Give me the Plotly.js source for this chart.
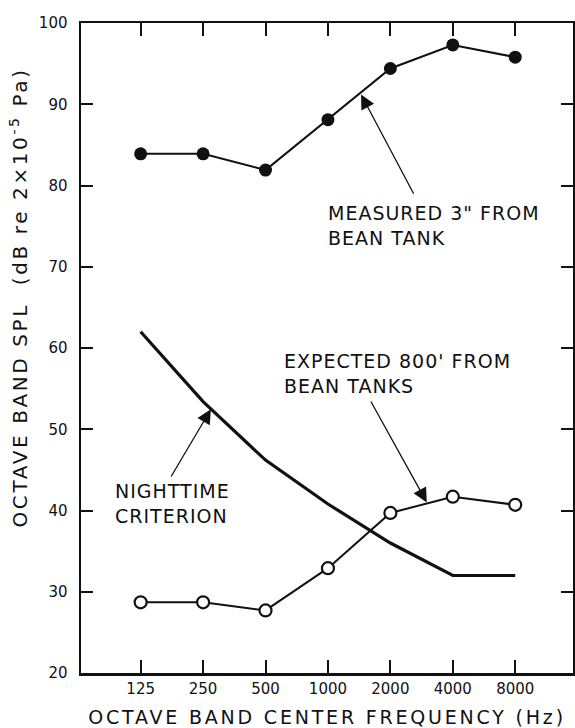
<!DOCTYPE html>
<html>
<head>
<meta charset="utf-8">
<script src="https://cdn.plot.ly/plotly-3.0.1.min.js"></script>
<style>
  html, body { margin: 0; padding: 0; background: #fff; }
  #chart { width: 575px; height: 728px; }
  .annotation-text { letter-spacing: 1px; }
  .annotation[data-index="6"] .annotation-text { letter-spacing: 2.6px; }
  .xtitle { letter-spacing: 2.8px; }
</style>
</head>
<body>
<div id="chart"></div>
<script>
// Octave band center frequencies (Hz)
const frequencies = [125, 250, 500, 1000, 2000, 4000, 8000];
const frequencyLabels = ['125', '250', '500', '1000', '2000', '4000', '8000'];
// Octave band SPL (dB re 2x10^-5 Pa)
const measured3in = [83.9, 83.9, 81.9, 88.1, 94.4, 97.3, 95.8];
const expected800ft = [28.7, 28.7, 27.7, 32.9, 39.7, 41.7, 40.7];
const nighttimeCriterion = [62.0, 53.4, 46.2, 40.8, 36.0, 32.0, 32.0];
const yTicks = [20, 30, 40, 50, 60, 70, 80, 90, 100];
const xTitle = 'OCTAVE BAND CENTER FREQUENCY (Hz)';
const yTitle = 'OCTAVE BAND SPL  (dB re 2×10<sup>-5</sup> Pa)';

const ink = '#111111';
const FONT = 'DejaVu Sans, sans-serif';

const traces = [
  {
    x: frequencies, y: nighttimeCriterion, type: 'scatter', mode: 'lines',
    name: 'Nighttime criterion',
    line: { color: ink, width: 3.2 }
  },
  {
    x: frequencies, y: measured3in, type: 'scatter', mode: 'lines+markers',
    name: 'Measured 3" from bean tank',
    line: { color: ink, width: 2 },
    marker: { color: ink, size: 13, symbol: 'circle', line: { width: 0 } }
  },
  {
    x: frequencies, y: expected800ft, type: 'scatter', mode: 'lines+markers',
    name: "Expected 800' from bean tanks",
    line: { color: ink, width: 2 },
    marker: { color: '#ffffff', size: 12, symbol: 'circle', line: { color: ink, width: 2.2 } }
  }
];

const textFont = { family: FONT, size: 19, color: ink };
function arrow(x, y, ax, ay) {
  return { x: x, y: y, ax: ax, ay: ay, xref: 'x', yref: 'y', axref: 'x', ayref: 'y',
           text: '', showarrow: true, arrowhead: 2, arrowsize: 2.2, arrowwidth: 1.3,
           arrowcolor: ink, standoff: 0, startstandoff: 0 };
}
function label(x, y, text) {
  return { x: x, y: y, xref: 'x', yref: 'y', text: text, showarrow: false,
           xanchor: 'left', yanchor: 'middle', align: 'left', font: textFont };
}

const layout = {
  width: 575, height: 728,
  margin: { l: 81, r: 2, t: 23, b: 55 },
  paper_bgcolor: '#ffffff', plot_bgcolor: '#ffffff',
  showlegend: false,
  font: { family: FONT, color: ink },
  xaxis: {
    type: 'log',
    range: [1.8092, 4.1817],
    tickvals: frequencies, ticktext: frequencyLabels,
    ticks: 'inside', ticklen: 13, tickwidth: 2, tickcolor: ink,
    showline: true, linewidth: 2.5, linecolor: ink, mirror: 'ticks',
    showgrid: false, zeroline: false,
    tickfont: { family: FONT, size: 15, color: ink },
    ticklabelstandoff: 0,
    title: { text: xTitle, font: { family: FONT, size: 19, color: ink }, standoff: 20 }
  },
  yaxis: {
    range: [20, 100],
    tickvals: yTicks,
    ticks: 'inside', ticklen: 12, tickwidth: 2, tickcolor: ink,
    showline: true, linewidth: 2.5, linecolor: ink, mirror: 'ticks',
    showgrid: false, zeroline: false,
    tickfont: { family: FONT, size: 15, color: ink },
    ticklabelstandoff: 8
  },
  annotations: [
    arrow(3.1596, 91.2, 3.4172, 78.8),
    label(2.9925, 75.1, 'MEASURED 3" FROM<br>BEAN TANK'),
    arrow(3.4766, 41.0, 3.2032, 53.6),
    label(2.7794, 56.9, "EXPECTED 800' FROM<br>BEAN TANKS"),
    arrow(2.4356, 52.45, 2.2396, 44.0),
    label(1.9646, 40.9, 'NIGHTTIME<br>CRITERION'),
    { x: -0.126, y: 0.578, xref: 'paper', yref: 'paper', text: yTitle, showarrow: false,
      textangle: -90, xanchor: 'center', yanchor: 'middle',
      font: { family: FONT, size: 20, color: ink } }
  ]
};

Plotly.newPlot('chart', traces, layout, { displayModeBar: false, staticPlot: true });
</script>
</body>
</html>
